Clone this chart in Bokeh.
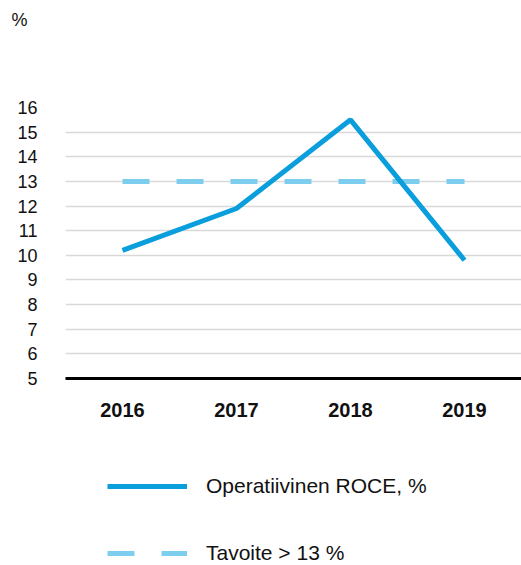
from bokeh.plotting import figure
from bokeh.layouts import column
from bokeh.models import Range1d, FactorRange, Legend, LegendItem, ColumnDataSource, FixedTicker, Title
from bokeh.embed import file_html
from bokeh.resources import INLINE

years = ["2016", "2017", "2018", "2019"]
roce = [10.2, 11.9, 15.5, 9.8]
target = [13, 13, 13, 13]
y_ticks = list(range(5, 17))

FONT = "Liberation Sans"
ROCE_COLOR = "#0A9EDC"
TARGET_COLOR = "#7DCDEE"

p = figure(width=521, height=440, x_range=FactorRange(*years), y_range=Range1d(5, 16),
           output_backend="svg", toolbar_location=None, title=None,
           min_border_left=65, min_border_right=0, min_border_top=107, min_border_bottom=62)
p.outline_line_color = None
p.background_fill_color = None
p.border_fill_color = "white"

# spacer panel (nearest the frame), then the "%" unit title above it
p.add_layout(Title(text=" ", standoff=56, text_font=FONT, text_font_size="18px"), "above")
p.add_layout(Title(text="%", align="left", offset=-54, standoff=0, text_font=FONT,
                   text_font_size="18px", text_font_style="normal", text_color="#111111"), "above")

src = ColumnDataSource(dict(x=years, roce=roce, target=target))
p.line("x", "target", source=src, line_color=TARGET_COLOR, line_width=5, line_dash="27 27")
p.line("x", "roce", source=src, line_color=ROCE_COLOR, line_width=5)

p.xgrid.grid_line_color = None
p.ygrid.grid_line_color = "#D9D9D9"
p.ygrid.grid_line_width = 1.5
p.yaxis.ticker = FixedTicker(ticks=y_ticks)
p.yaxis.axis_line_color = None
p.yaxis.major_tick_line_color = None
p.yaxis.minor_tick_line_color = None
p.yaxis.major_tick_out = 0
p.yaxis.major_label_standoff = 28
p.yaxis.major_label_text_font = FONT
p.yaxis.major_label_text_font_size = "18px"
p.yaxis.major_label_text_color = "#111111"

p.xaxis.axis_line_color = "black"
p.xaxis.axis_line_width = 3
p.xaxis.major_tick_line_color = None
p.xaxis.minor_tick_line_color = None
p.xaxis.major_tick_out = 0
p.xaxis.major_label_standoff = 24
p.xaxis.major_label_text_font = FONT
p.xaxis.major_label_text_font_size = "20px"
p.xaxis.major_label_text_font_style = "bold"
p.xaxis.major_label_text_color = "#111111"

# legend panel
lg = figure(width=521, height=125, x_range=Range1d(0, 1), y_range=Range1d(0, 1),
            output_backend="svg", toolbar_location=None, x_axis_type=None, y_axis_type=None,
            min_border_left=0, min_border_right=0, min_border_top=0, min_border_bottom=0)
lg.outline_line_color = None
lg.xgrid.grid_line_color = None
lg.ygrid.grid_line_color = None
r_roce = lg.line(x=[-10, -9], y=[-10, -10], line_color=ROCE_COLOR, line_width=5)
r_target = lg.line(x=[-10, -9], y=[-10, -10], line_color=TARGET_COLOR, line_width=5, line_dash="27 27")

legend = Legend(items=[LegendItem(label="Operatiivinen ROCE, %", renderers=[r_roce]),
                       LegendItem(label="Tavoite > 13 %", renderers=[r_target])],
                location=(42, 0), orientation="vertical",
                glyph_width=80, glyph_height=22, label_height=22, label_standoff=19, spacing=43,
                padding=0, margin=0, border_line_color=None, background_fill_color=None,
                label_text_font=FONT, label_text_font_size="21px", label_text_color="#111111")
lg.add_layout(legend, "center")

layout = column(p, lg, spacing=0)
open("out.html", "w").write(file_html(layout, INLINE))
